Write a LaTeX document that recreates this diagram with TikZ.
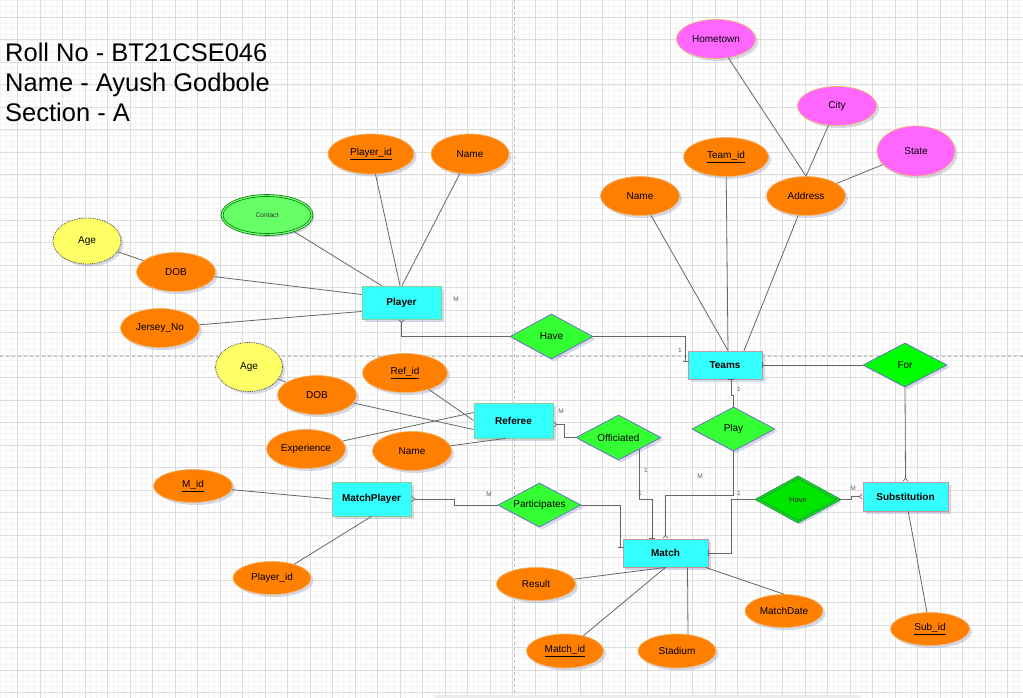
\documentclass[tikz,border=0pt]{standalone}
\usepackage{fontspec}
\setmainfont{Liberation Sans}
\usetikzlibrary{shapes.geometric,shadows,arrows.meta,calc}
\definecolor{cyanE}{HTML}{33FFFF}
\definecolor{orangeA}{HTML}{FF8000}
\definecolor{attrline}{HTML}{F2B46E}
\definecolor{greenR}{HTML}{33FF33}
\definecolor{greenF}{HTML}{00FF00}
\definecolor{greenH}{HTML}{00E600}
\definecolor{relline}{HTML}{6666CC}
\definecolor{haveline}{HTML}{3A7F6A}
\definecolor{yellowA}{HTML}{FFFF66}
\definecolor{magA}{HTML}{FF66FF}
\definecolor{contactc}{HTML}{66FF66}
\definecolor{entG}{HTML}{8FCC8F}
\definecolor{entR}{HTML}{C49A9A}
\definecolor{linec}{HTML}{666666}
\definecolor{shadowc}{HTML}{7A86B8}
\definecolor{gridmaj}{HTML}{DCDCDC}
\definecolor{gridmin}{HTML}{F4F4F4}
\tikzset{
  conn/.style={draw=linec, line width=0.8pt},
  one/.style={conn, -{Bar[width=6pt,line width=0.8pt]}},
  many/.style={conn, -{Straight Barb[reversed,length=3pt,width=5pt,line width=0.7pt]}},
  shadowed/.style={drop shadow={shadow xshift=2.5pt,shadow yshift=-2.5pt,opacity=0.3,fill=shadowc}},
  sz/.style 2 args={minimum width=#1pt, minimum height=#2pt},
  attr/.style={ellipse, draw=attrline, fill=orangeA, line width=0.7pt, inner sep=0pt,
    font=\fontsize{10}{12}\selectfont, shadowed},
  magattr/.style={attr, fill=magA},
  yelattr/.style={ellipse, draw=gray!55!black, densely dotted, fill=yellowA, line width=0.8pt,
    inner sep=0pt, font=\fontsize{10}{12}\selectfont, shadowed},
  ent/.style={rectangle, draw=#1, fill=cyanE, line width=0.8pt, inner sep=0pt,
    font=\bfseries\fontsize{10}{12}\selectfont, shadowed},
  rel/.style={diamond, aspect=1.85, draw=relline, fill=greenR, line width=0.7pt, inner sep=0pt,
    font=\fontsize{10}{12}\selectfont, shadowed},
  lab/.style={font=\fontsize{6.5}{7}\selectfont, text=gray!75!black, inner sep=0pt},
  titletext/.style={font=\fontsize{25.5}{30}\selectfont, inner sep=0pt, anchor=base west},
  gridmajor/.style={draw=gridmaj, line width=0.6pt},
  gridminor/.style={draw=gridmin, line width=0.5pt},
  pagebreak/.style={draw=gray!55, line width=0.6pt, dash pattern=on 3pt off 3pt}
}
\begin{document}
\begin{tikzpicture}[x=1pt,y=-1pt]
\useasboundingbox (0,0) rectangle (1023,698);
\fill[white] (0,0) rectangle (1023,698);
% grid
\foreach \i in {0,...,182} {\draw[gridminor] ({0.43+\i*5.625},0) -- ++(0,698);}
\foreach \i in {0,...,124} {\draw[gridminor] (0,{0.43+\i*5.625}) -- ++(1023,0);}
\foreach \i in {0,...,45} {\draw[gridmajor] ({17.3+\i*22.5},0) -- ++(0,698);}
\foreach \i in {0,...,30} {\draw[gridmajor] (0,{17.3+\i*22.5}) -- ++(1023,0);}
\draw[pagebreak] (514,0) -- (514,698);
\draw[pagebreak] (0,356) -- (1023,356);
\fill[gray!14] (435,694.5) rectangle (860,698);

% title
\node[titletext] (t1) at (5,62) {Roll No - BT21CSE046};
\node[titletext] (t2) at (5,92) {Name - Ayush Godbole};
\node[titletext] (t3) at (5,122) {Section - A};

% entities
\node[ent=entG, sz={79}{33}] (player) at (401.5,302.5) {Player};
\node[ent=entR, sz={74}{28}] (teams) at (725,365) {Teams};
\node[ent=entG, sz={79}{35}] (referee) at (513.5,420.5) {Referee};
\node[ent=entG, sz={79}{34}] (mp) at (371.5,499) {MatchPlayer};
\node[ent=entR, sz={85}{28}] (match) at (665.5,553) {Match};
\node[ent=entR, sz={85}{29}] (subst) at (905.5,496.5) {Substitution};

% relationships
\node[rel, sz={83}{45}] (haveT) at (551.5,336.5) {Have};
\node[rel, fill=greenF, sz={84}{44}] (forR) at (905,365) {For};
\node[rel, sz={85}{45}] (offic) at (618.5,437.5) {Officiated};
\node[rel, sz={83}{44}] (play) at (733.5,429) {Play};
\node[rel, sz={83}{44}] (part) at (539.5,505) {Participates};
\node[rel, fill=greenH, draw=haveline, double=greenH, double distance=1.4pt, line width=0.7pt,
  sz={82}{45}, text=gray!40!black, font=\fontsize{7.6}{9}\selectfont] (haveB) at (798,499.5) {Have};

% Player attributes
\node[attr, sz={86}{40}] (pid) at (371,154) {\underline{Player\_id}};
\node[attr, sz={78}{40}] (pname) at (470,154) {Name};
\node[ellipse, draw=green!35!black, double=contactc, double distance=1.4pt, fill=contactc,
  line width=0.6pt, inner sep=0pt, sz={90}{39}, font=\fontsize{6.6}{8}\selectfont,
  text=gray!40!black, shadowed] (contact) at (267,215) {Contact};
\node[yelattr, sz={68}{46}] (age1) at (87,241) {Age};
\node[attr, sz={79}{39}] (dob1) at (176,272) {DOB};
\node[attr, sz={79}{39}] (jersey) at (160,328) {Jersey\_No};

% Teams attributes
\node[magattr, sz={79}{39}] (hometown) at (716,39) {Hometown};
\node[magattr, sz={79}{39}] (city) at (837,106) {City};
\node[magattr, sz={78}{50}] (state) at (916,151) {State};
\node[attr, sz={85}{39}] (tid) at (726,157) {\underline{Team\_id}};
\node[attr, sz={79}{39}] (tname) at (640,196) {Name};
\node[attr, sz={79}{39}] (address) at (806,196) {Address};

% Referee attributes
\node[yelattr, sz={67}{49}] (age2) at (249,367) {Age};
\node[attr, sz={85}{39}] (rid) at (405,373) {\underline{Ref\_id}};
\node[attr, sz={79}{39}] (dob2) at (317,395) {DOB};
\node[attr, sz={79}{39}] (exper) at (306,449) {Experience};
\node[attr, sz={79}{39}] (rname) at (412,451) {Name};

% MatchPlayer attributes
\node[attr, sz={79}{33}] (mid) at (193,486) {\underline{M\_id}};
\node[attr, sz={78}{33}] (pid2) at (272,578) {Player\_id};

% Match attributes
\node[attr, sz={79}{33}] (result) at (536,584) {Result};
\node[attr, sz={77}{34}] (matchid) at (565,651) {\underline{Match\_id}};
\node[attr, sz={78}{34}] (stadium) at (677,651) {Stadium};
\node[attr, sz={78}{33}] (mdate) at (784,611) {MatchDate};
\node[attr, sz={79}{33}] (subid) at (930,629) {\underline{Sub\_id}};

% attribute lines
\draw[conn] (age1) -- (dob1);
\draw[conn] (dob1) -- ($(player.west)+(0,-8)$);
\draw[conn] (jersey) -- ($(player.west)+(0,9)$);
\draw[conn] (contact) -- ($(player.north west)+(20,0)$);
\draw[conn] (pid) -- ($(player.north)+(-1.5,0)$);
\draw[conn] (pname) -- ($(player.north)+(0.5,0)$);

\draw[conn] (tname) -- ($(teams.north)+(3,0)$);
\draw[conn] (tid) -- ($(teams.north)+(3,0)$);
\draw[conn] (address) -- ($(teams.north)+(19,0)$);
\draw[conn] (hometown) -- (address.north);
\draw[conn] (city) -- (address.north);
\draw[conn] (state) -- (address);

\draw[conn] (age2) -- (dob2);
\draw[conn] (rid) -- (referee.west);
\draw[conn] (dob2) -- ($(referee.west)+(0,9)$);
\draw[conn] (exper) -- ($(referee.west)+(0,-8)$);
\draw[conn] (rname) -- ($(referee.south)+(-8,0)$);

\draw[conn] (mid) -- (mp.west);
\draw[conn] (pid2) -- (mp.south);

\draw[conn] (result) -- (match.south);
\draw[conn] (matchid) -- (match.south);
\draw[conn] ($(stadium.north)+(11,1)$) -- ($(match.south)+(22,0)$);
\draw[conn] (mdate.north) -- ($(match.south east)+(-3,0)$);
\draw[conn] (subid) -- (subst);

% relationship connectors
\draw[many] (haveT.west) -| (player.south);
\draw[one] (haveT.east) -| ($(teams.north west)+(-2,11)$);
\draw[one] (forR.west) -- (teams.east);
\draw[many] (forR.south) -- (subst.north);
\draw[one] (play.north) -- ++(0,-11) -| ($(teams.south)+(6,0)$);
\draw[many] (play.south) -- ++(0,44) -| (match.north);
\draw[many] (offic.west) -- ++(-11,0) |- ($(referee.east)+(0,4)$);
\draw[one] ($(offic.south)+(21,-11)$) -- ++(0,50) -| ($(match.north)+(-13.5,0)$);
\draw[many] (part.west) -- ++(-43,0) |- (mp.east);
\draw[one] (part.east) -| ($(match.north west)+(-2,9)$);
\draw[one] (haveB.west) -- ++(-25,0) |- (match.east);
\draw[many] (haveB.east) -- ++(12,0) |- (subst.west);

% cardinality labels
\node[lab] (l1) at (456,299) {M};
\node[lab] (l2) at (680,350) {1};
\node[lab] (l3) at (739,389) {1};
\node[lab] (l4) at (700,476) {M};
\node[lab] (l5) at (561,411) {M};
\node[lab] (l6) at (646,470) {1};
\node[lab] (l7) at (640,493) {1};
\node[lab] (l8) at (489,494) {M};
\node[lab] (l9) at (739,493) {1};
\node[lab] (l10) at (853,488) {M};
\end{tikzpicture}
\end{document}
